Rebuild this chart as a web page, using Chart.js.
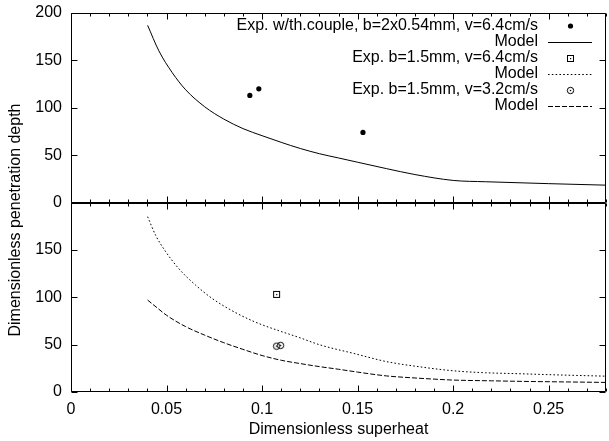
<!DOCTYPE html>
<html>
<head>
<meta charset="utf-8">
<script src="https://cdn.jsdelivr.net/npm/chart.js@4/dist/chart.umd.min.js"></script>
<style>
html,body{margin:0;padding:0;background:#fff;overflow:hidden;}
#wrap{width:609px;height:441px;overflow:hidden;position:relative;}
canvas{display:block;}
</style>
</head>
<body>
<div id="wrap"><canvas id="c" width="611" height="441"></canvas></div>
<script>
// ---- data ----
const xTicks = [0, 0.05, 0.1, 0.15, 0.2, 0.25];
const yTicks = [0, 50, 100, 150, 200];
const xLabel = 'Dimensionless superheat';
const yLabel = 'Dimensionless penetration depth';

const expTCx = [0.0936, 0.0983, 0.1528];
const expTCy = [113, 120, 74];

const model1x = [0.0401, 0.046, 0.053, 0.06, 0.07, 0.08, 0.09, 0.1, 0.11, 0.12, 0.13, 0.14, 0.15, 0.165, 0.18, 0.2, 0.217, 0.235, 0.25, 0.28];
const model1y = [187, 160, 137, 119, 101, 88, 78, 70.5, 63.5, 57, 51.5, 47, 42.5, 35.8, 29.5, 23.3, 21.9, 20.8, 19.9, 18.3];

const exp64x = [0.1076];
const exp64y = [103];

const model2x = [0.0401, 0.0444, 0.0496, 0.0565, 0.0651, 0.0737, 0.0841, 0.0962, 0.1083, 0.1187, 0.1307, 0.148, 0.1653, 0.1825, 0.2, 0.217, 0.2344, 0.2517, 0.28];
const model2y = [185, 165, 148, 130, 113, 99, 86, 74, 65, 58, 49.5, 40.7, 32, 26.6, 22.4, 20.3, 19.3, 18.2, 16.7];

const exp32x = [0.1076, 0.1097];
const exp32y = [48.4, 49.2];

const model3x = [0.0401, 0.045, 0.05, 0.06, 0.07, 0.08, 0.09, 0.1, 0.11, 0.12, 0.13, 0.14, 0.15, 0.165, 0.18, 0.19, 0.2, 0.22, 0.24, 0.26, 0.28];
const model3y = [97, 89, 81, 69, 60, 52, 45, 38.5, 33.5, 30, 26.8, 24, 21, 17, 14.8, 13.6, 12.6, 11.8, 11.1, 10.6, 10.1];

const legendLabels = ['Exp. w/th.couple, b=2x0.54mm, v=6.4cm/s', 'Model', 'Exp. b=1.5mm, v=6.4cm/s', 'Model', 'Exp. b=1.5mm, v=3.2cm/s', 'Model'];

// ---- helpers ----
const pts = (xs, ys) => xs.map((x, i) => ({x: x, y: ys[i]}));
const FONT = '"Liberation Sans", Arial, sans-serif';

function makeSquare() {
  const c = document.createElement('canvas'); c.width = 9; c.height = 9;
  const g = c.getContext('2d');
  g.strokeStyle = '#000'; g.lineWidth = 1;
  g.strokeRect(1.5, 1.5, 6, 6);
  g.fillStyle = '#000'; g.fillRect(4, 4, 1.2, 1.2);
  return c;
}
function makeCircle() {
  const c = document.createElement('canvas'); c.width = 9; c.height = 9;
  const g = c.getContext('2d');
  g.strokeStyle = '#000'; g.lineWidth = 1;
  g.beginPath(); g.arc(4.5, 4.5, 3.2, 0, Math.PI * 2); g.stroke();
  g.fillStyle = '#000'; g.beginPath(); g.arc(4.5, 4.5, 0.8, 0, Math.PI * 2); g.fill();
  return c;
}
const sqImg = makeSquare();
const ciImg = makeCircle();

const lineDs = (label, data, axis, dash) => ({
  label: label, data: data, yAxisID: axis, showLine: true, pointRadius: 0,
  borderColor: '#000', borderWidth: 1, borderDash: dash, cubicInterpolationMode: 'monotone', fill: false
});

const datasets = [
  {label: legendLabels[0], data: pts(expTCx, expTCy), yAxisID: 'yTop', pointStyle: 'circle', pointRadius: 2.6, backgroundColor: '#000', borderColor: '#000', borderWidth: 0, showLine: false},
  lineDs(legendLabels[1], pts(model1x, model1y), 'yTop', []),
  {label: legendLabels[2], data: pts(exp64x, exp64y), yAxisID: 'yBot', pointStyle: sqImg, pointRadius: 4, showLine: false},
  lineDs(legendLabels[3], pts(model2x, model2y), 'yBot', [1.6, 2.2]),
  {label: legendLabels[4], data: pts(exp32x, exp32y), yAxisID: 'yBot', pointStyle: ciImg, pointRadius: 4, showLine: false},
  lineDs(legendLabels[5], pts(model3x, model3y), 'yBot', [5, 2])
];

const frame = {
  id: 'frame',
  afterDatasetsDraw(chart) {
    const ctx = chart.ctx, ca = chart.chartArea, xs = chart.scales.x;
    const L = Math.round(ca.left) + 0.5, R = Math.round(ca.right) - 0.5;
    ctx.save();
    ctx.strokeStyle = '#000'; ctx.lineWidth = 1; ctx.setLineDash([]);
    [chart.scales.yTop, chart.scales.yBot].forEach(p => {
      const T = Math.round(p.top) + 0.5, B = Math.round(p.bottom) - 0.5;
      ctx.beginPath();
      ctx.moveTo(L, T); ctx.lineTo(R, T); ctx.lineTo(R, B); ctx.lineTo(L, B); ctx.closePath();
      for (let i = 0; i <= 28; i++) {
        const px = Math.round(xs.getPixelForValue(i / 100)) + 0.5;
        const len = (i % 5 === 0) ? 6 : 3;
        ctx.moveTo(px, T); ctx.lineTo(px, T + len);
        ctx.moveTo(px, B); ctx.lineTo(px, B - len);
      }
      yTicks.forEach(v => {
        const py = Math.round(p.getPixelForValue(v)) + 0.5;
        ctx.moveTo(L, py); ctx.lineTo(L + 6, py);
        ctx.moveTo(R, py); ctx.lineTo(R - 6, py);
      });
      ctx.stroke();
    });
    ctx.restore();
  }
};

const legendAndTitle = {
  id: 'legendAndTitle',
  afterDraw(chart) {
    const ctx = chart.ctx;
    ctx.save();
    ctx.fillStyle = '#000'; ctx.strokeStyle = '#000';
    ctx.font = '16px ' + FONT;
    // y title
    ctx.save();
    ctx.translate(16, 220); ctx.rotate(-Math.PI / 2);
    ctx.textAlign = 'center'; ctx.textBaseline = 'middle';
    ctx.fillText(yLabel, 0, 0);
    ctx.restore();
    // legend
    const textR = 538, sx0 = 548, sx1 = 592, sxc = 570.5;
    const rowY = [26, 42, 58, 74, 90, 106];
    ctx.textAlign = 'right'; ctx.textBaseline = 'middle';
    chart.data.datasets.forEach((ds, i) => {
      const y = rowY[i];
      ctx.fillText(ds.label, textR, y);
      if (ds.showLine) {
        ctx.lineWidth = 1; ctx.setLineDash(ds.borderDash || []);
        ctx.beginPath(); ctx.moveTo(sx0, Math.round(y) + 0.5); ctx.lineTo(sx1, Math.round(y) + 0.5); ctx.stroke();
        ctx.setLineDash([]);
      } else if (ds.pointStyle === 'circle') {
        ctx.beginPath(); ctx.arc(sxc, y, ds.pointRadius, 0, Math.PI * 2); ctx.fill();
      } else {
        const img = ds.pointStyle;
        ctx.drawImage(img, Math.round(sxc - img.width / 2), Math.round(y - img.height / 2));
      }
    });
    ctx.restore();
  }
};

const fitY = s => { s.width = 71; s.paddingTop = 0; s.paddingBottom = 0; };

new Chart(document.getElementById('c'), {
  type: 'scatter',
  data: {datasets: datasets},
  options: {
    responsive: false, animation: false, devicePixelRatio: 1,
    layout: {padding: {left: 0, right: 0, top: 13, bottom: 0}},
    plugins: {legend: {display: false}, tooltip: {enabled: false}},
    scales: {
      x: {
        type: 'linear', min: 0, max: 0.28, position: 'bottom',
        grid: {display: false, drawTicks: false}, border: {display: false},
        afterBuildTicks: s => { s.ticks = xTicks.map(v => ({value: v})); },
        ticks: {color: '#000', font: {family: FONT, size: 16}, padding: 8, maxRotation: 0, autoSkip: false,
                callback: v => String(v)},
        title: {display: true, text: xLabel, color: '#000', font: {family: FONT, size: 16}, padding: {top: 0, bottom: 2}},
        afterFit: s => { s.height = 49; s.paddingLeft = 0; s.paddingRight = 0; }
      },
      yBot: {
        type: 'linear', min: 0, max: 200, position: 'left', stack: 'v', stackWeight: 1,
        grid: {display: false, drawTicks: false}, border: {display: false},
        afterBuildTicks: s => { s.ticks = yTicks.map(v => ({value: v})); },
        ticks: {color: '#000', font: {family: FONT, size: 16}, padding: 9, callback: v => (v === 200 ? '' : String(v))},
        afterFit: fitY
      },
      yTop: {
        type: 'linear', min: 0, max: 200, position: 'left', stack: 'v', stackWeight: 1,
        grid: {display: false, drawTicks: false}, border: {display: false},
        afterBuildTicks: s => { s.ticks = yTicks.map(v => ({value: v})); },
        ticks: {color: '#000', font: {family: FONT, size: 16}, padding: 9, callback: v => String(v)},
        afterFit: fitY
      }
    }
  },
  plugins: [frame, legendAndTitle]
});
</script>
</body>
</html>
